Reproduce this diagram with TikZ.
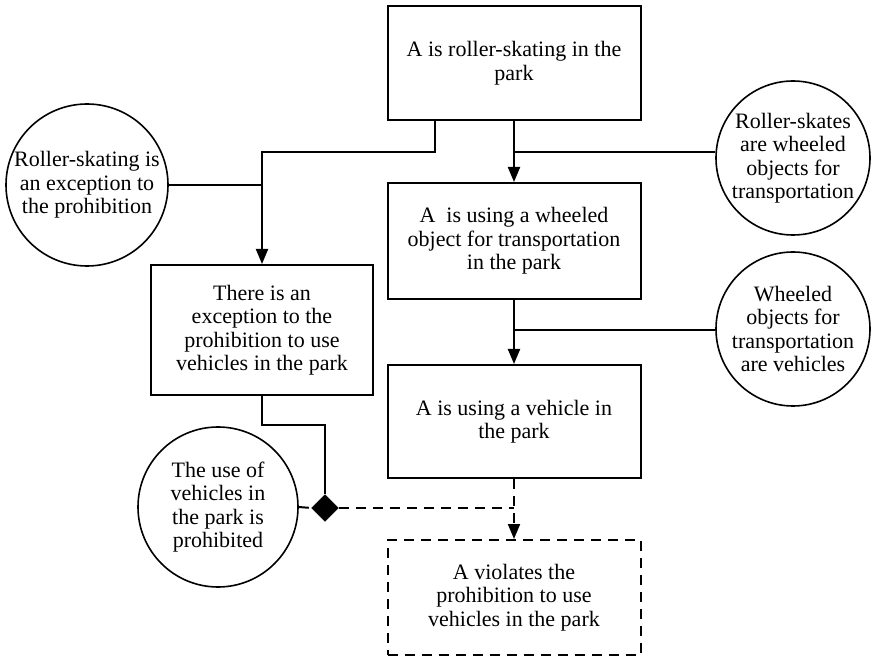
\documentclass[tikz,border=0pt]{standalone}
\usepackage{fontspec}
\setmainfont{Liberation Serif}
\usetikzlibrary{arrows.meta,shapes.geometric}
\tikzset{
  every node/.style={font=\rmfamily\fontsize{22}{23.5}\selectfont},
  box/.style={draw, line width=2pt, minimum width=253pt, inner sep=2pt, align=center},
  dbox/.style={box, dash pattern=on 10pt off 7pt},
  circ/.style={draw, circle, line width=1.6pt, inner sep=0pt},
  conn/.style={line width=2pt},
  arr/.style={conn, -{Triangle[length=15pt,width=12pt]}},
  dconn/.style={conn, dash pattern=on 10pt off 7pt},
  ctext/.style={align=center}
}
\begin{document}
\begin{tikzpicture}[x=1pt,y=-1pt]
\useasboundingbox (0,0) rectangle (879,660);
% boxes
\node[box, minimum height=114pt] (b1) at (514,63) {A is roller-skating in the\\park};
\node[box, minimum height=116pt] (b2) at (514,241) {A~ is using a wheeled\\object for transportation\\in the park};
\node[box, minimum height=113pt] (b3) at (514,421.5) {A is using a vehicle in\\the park};
\node[dbox, minimum height=115pt] (b4) at (514,597.5) {A violates the\\prohibition to use\\vehicles in the park};
\node[box, minimum width=222pt, minimum height=130pt] (bL) at (262,330) {There is an\\exception to the\\prohibition to use\\vehicles in the park};
% circles
\node[circ, minimum size=162pt, label={[ctext]center:Roller-skating is\\an exception to\\the prohibition}] (c1) at (87,185) {};
\node[circ, minimum size=154pt, label={[ctext]center:Roller-skates\\are wheeled\\objects for\\transportation}] (c2) at (793,158) {};
\node[circ, minimum size=154pt, label={[ctext]center:Wheeled\\objects for\\transportation\\are vehicles}] (c3) at (793,329) {};
\node[circ, minimum size=160pt, label={[ctext]center:The use of\\vehicles in\\the park is\\prohibited}] (c4) at (218,507) {};
% diamond
\node[draw, fill=black, diamond, minimum width=27pt, minimum height=27pt, inner sep=0pt] (dm) at (325,508) {};
% junction coordinates
\coordinate (k1) at (435,152);
\coordinate (k2) at (262,152);
\coordinate (m1) at (514,152);
\coordinate (m2) at (514,330);
\coordinate (k3) at (325,425);
\coordinate (m3) at (514,508);
% connectors
\draw[arr] (b1.south -| k1) -- (k1) -- (k2) -- (bL.north);
\draw[conn] (c1.east) -- (c1.east -| bL.north);
\draw[arr] (b1.south) -- (b2.north);
\draw[conn] (m1) -- (c2.west |- m1);
\draw[arr] (b2.south) -- (b3.north);
\draw[conn] (m2) -- (c3.west |- m2);
\draw[conn] (bL.south) |- (k3) -- (dm.north);
\draw[dconn] (c4.east) -- (dm.west);
\draw[dconn] (dm.east) -- (m3);
\draw[dconn, -{Triangle[length=15pt,width=12pt]}] (b3.south) -- (b4.north);
\end{tikzpicture}
\end{document}
